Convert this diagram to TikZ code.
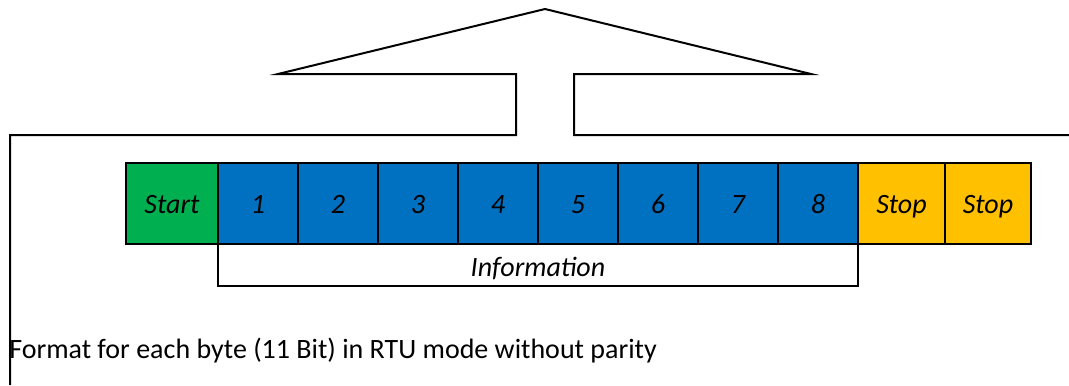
\documentclass[tikz,border=0pt]{standalone}
\usepackage{fontspec}
\setmainfont{Carlito}
\usetikzlibrary{positioning}
\definecolor{startgreen}{RGB}{0,176,80}
\definecolor{bitblue}{RGB}{0,112,192}
\definecolor{stopgold}{RGB}{255,192,0}
\newcommand{\framefont}{\fontsize{21}{25}\selectfont}
\tikzset{
    bitbox/.style={draw, line width=1.5pt, minimum height=60.75pt,
                   minimum width=60pt, inner sep=0pt, outer sep=0pt,
                   font=\framefont\itshape, text height=15.5pt, text depth=0pt},
    startbit/.style={bitbox, fill=startgreen, minimum width=69pt},
    databit/.style={bitbox, fill=bitblue},
    stopbit/.style={bitbox, fill=stopgold, minimum width=65pt},
    outline/.style={line width=1.5pt},
    note/.style={font=\framefont\itshape, inner sep=0pt},
}
\begin{document}
\begin{tikzpicture}[x=0.75pt, y=-0.75pt, font=\framefont]
    \path[use as bounding box] (0,0) rectangle (1069,385);

    % callout frame
    \draw[outline] (10,385) -- (10,135) -- (516,135) -- (516,74)
        -- (278,74) -- (545,9) -- (811,74) -- (574,74)
        -- (574,135) -- (1069,135);

    % one character frame
    \node[startbit] (start) at (172,203.5) {Start};
    \node[databit] (b1) at (258,203.5) {1};
    \node[databit] (b2) at (338,203.5) {2};
    \node[databit] (b3) at (418,203.5) {3};
    \node[databit] (b4) at (498,203.5) {4};
    \node[databit] (b5) at (578,203.5) {5};
    \node[databit] (b6) at (658,203.5) {6};
    \node[databit] (b7) at (738,203.5) {7};
    \node[databit] (b8) at (818,203.5) {8};
    \node[stopbit] (stopa) at (901.5,203.5) {Stop};
    \node[stopbit] (stopb) at (988,203.5) {Stop};

    % data bits bracket
    \node[note] (info) at (538,268) {Information};
    \draw[outline] (b1.south west) -- ++(0,42) -| (b8.south east);

    \node[anchor=base west, inner sep=0pt] (caption) at (9,358)
        {Format for each byte (11 Bit) in RTU mode without parity};
\end{tikzpicture}
\end{document}
